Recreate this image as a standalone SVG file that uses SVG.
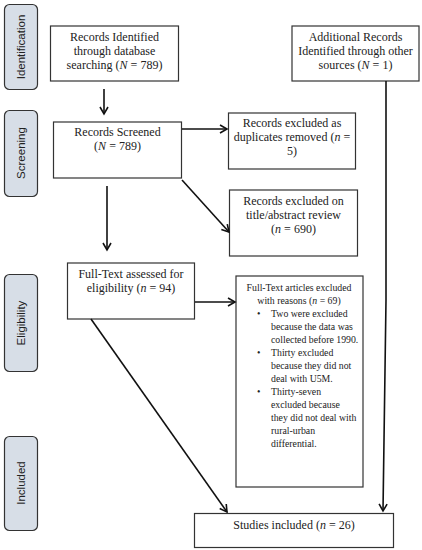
<svg xmlns="http://www.w3.org/2000/svg" width="422" height="550" viewBox="0 0 422 550">
<style>
.stage{fill:#d7dee7;stroke:#333;stroke-width:1.2}
.stxt{font-family:"Liberation Sans",Arial,sans-serif;font-size:11.5px;fill:#222;text-anchor:middle}
.box{fill:#fff;stroke:#333;stroke-width:1.2}
.t{font-family:"Liberation Serif","Times New Roman",serif;font-size:12px;fill:#222;text-anchor:middle}
.s{font-family:"Liberation Serif","Times New Roman",serif;font-size:9.8px;fill:#222}
.line{stroke:#111;stroke-width:1.6;fill:none}
</style>
<defs>
<marker id="ah" markerWidth="10" markerHeight="10" refX="8" refY="5" orient="auto" markerUnits="userSpaceOnUse">
<path d="M1,1 L8,5 L1,9" fill="none" stroke="#111" stroke-width="1.6"/>
</marker>
</defs>
<rect width="422" height="550" fill="#fff"/>
<g id="stage-identification"><rect class="stage" x="4.5" y="4.5" width="33" height="85" rx="5"/><text class="stxt" transform="translate(25,47) rotate(-90)">Identification</text></g>
<g id="stage-screening"><rect class="stage" x="4.5" y="110.5" width="33" height="86" rx="5"/><text class="stxt" transform="translate(25,153) rotate(-90)">Screening</text></g>
<g id="stage-eligibility"><rect class="stage" x="4.5" y="274.5" width="33" height="97" rx="5"/><text class="stxt" transform="translate(25,323) rotate(-90)">Eligibility</text></g>
<g id="stage-included"><rect class="stage" x="4.5" y="436.5" width="33" height="94" rx="5"/><text class="stxt" transform="translate(25,483) rotate(-90)">Included</text></g>

<g id="records-identified"><rect class="box" x="50.5" y="26" width="128" height="55"/>
<text class="t" x="114.5" y="41">Records Identified</text>
<text class="t" x="114.5" y="55">through database</text>
<text class="t" x="114.5" y="69">searching (<tspan font-style="italic">N</tspan> = 789)</text></g>
<g id="additional-records"><rect class="box" x="292" y="26" width="127" height="55"/>
<text class="t" x="355.5" y="41">Additional Records</text>
<text class="t" x="355.5" y="55">Identified through other</text>
<text class="t" x="355.5" y="69">sources (<tspan font-style="italic">N</tspan> = 1)</text></g>
<g id="records-screened"><rect class="box" x="53.5" y="122" width="128" height="56"/>
<text class="t" x="117.5" y="136">Records Screened</text>
<text class="t" x="117.5" y="150">(<tspan font-style="italic">N</tspan> = 789)</text></g>
<g id="duplicates"><rect class="box" x="228.5" y="113" width="127" height="56"/>
<text class="t" x="292" y="127">Records excluded as</text>
<text class="t" x="292" y="141">duplicates removed (<tspan font-style="italic">n</tspan> =</text>
<text class="t" x="292" y="155">5)</text></g>
<g id="title-abstract"><rect class="box" x="229.5" y="190" width="128" height="66"/>
<text class="t" x="293.5" y="205">Records excluded on</text>
<text class="t" x="293.5" y="219">title/abstract review</text>
<text class="t" x="293.5" y="233">(<tspan font-style="italic">n</tspan> = 690)</text></g>
<g id="full-text"><rect class="box" x="67.5" y="263" width="127" height="56"/>
<text class="t" x="131" y="278">Full-Text assessed for</text>
<text class="t" x="131" y="292">eligibility (<tspan font-style="italic">n</tspan> = 94)</text></g>
<g id="full-text-excluded"><rect class="box" x="236" y="276" width="127" height="211"/>
<text class="s" x="299" y="291" text-anchor="middle">Full-Text articles excluded</text>
<text class="s" x="299" y="304" text-anchor="middle">with reasons (<tspan font-style="italic">n</tspan> = 69)</text>
<text class="s" x="257" y="317">•</text>
<text class="s" x="271" y="317">Two were excluded</text>
<text class="s" x="271" y="330">because the data was</text>
<text class="s" x="271" y="343">collected before 1990.</text>
<text class="s" x="257" y="356">•</text>
<text class="s" x="271" y="356">Thirty excluded</text>
<text class="s" x="271" y="369">because they did not</text>
<text class="s" x="271" y="382">deal with U5M.</text>
<text class="s" x="257" y="395">•</text>
<text class="s" x="271" y="395">Thirty-seven</text>
<text class="s" x="271" y="408">excluded because</text>
<text class="s" x="271" y="421">they did not deal with</text>
<text class="s" x="271" y="434">rural-urban</text>
<text class="s" x="271" y="447">differential.</text></g>
<g id="studies-included"><rect class="box" x="194.5" y="513.5" width="199" height="34"/>
<text class="t" x="294" y="529">Studies included (<tspan font-style="italic">n</tspan> = 26)</text></g>

<g id="connectors">
<line class="line" x1="104" y1="89" x2="104" y2="114" marker-end="url(#ah)"/>
<line class="line" x1="182" y1="129" x2="227" y2="129" marker-end="url(#ah)"/>
<line class="line" x1="182" y1="180" x2="229" y2="232" marker-end="url(#ah)"/>
<line class="line" x1="107" y1="186" x2="107" y2="250" marker-end="url(#ah)"/>
<line class="line" x1="195" y1="302" x2="235" y2="302" marker-end="url(#ah)"/>
<line class="line" x1="91" y1="319" x2="227" y2="512" marker-end="url(#ah)"/>
<polyline class="line" points="386,81 386,300 383,511" marker-end="url(#ah)"/>
</g>
</svg>
